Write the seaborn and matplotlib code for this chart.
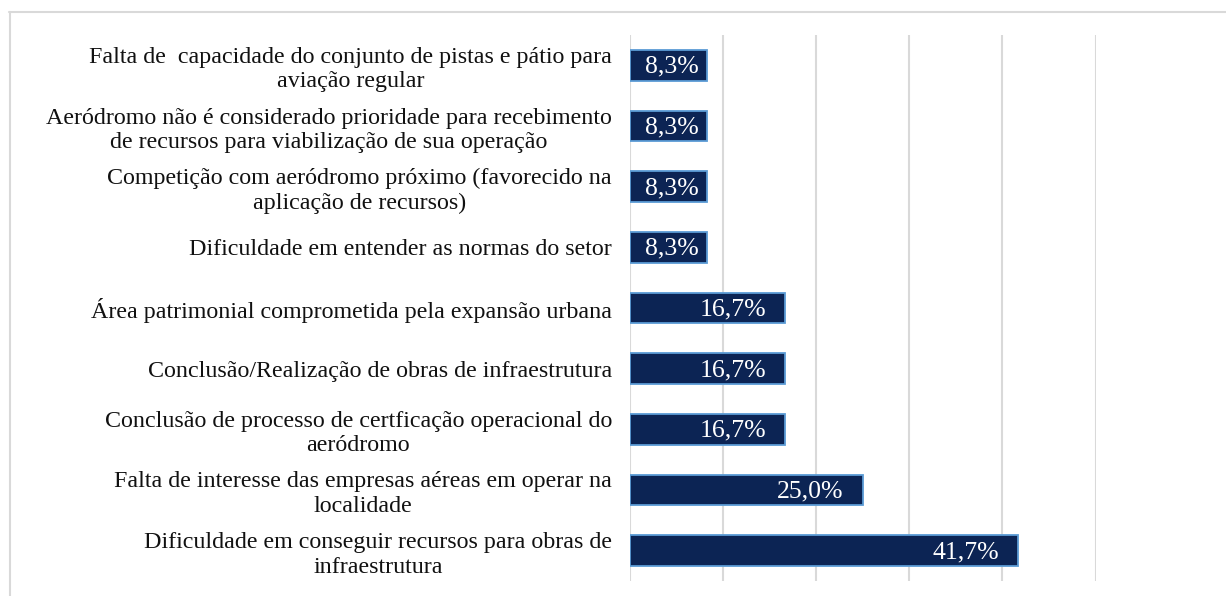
import pandas as pd
import matplotlib.pyplot as plt
import seaborn as sns
from matplotlib.lines import Line2D

# Data (top to bottom)
motivos = [
    "Falta de  capacidade do conjunto de pistas e pátio para\naviação regular",
    "Aeródromo não é considerado prioridade para recebimento\nde recursos para viabilização de sua operação",
    "Competição com aeródromo próximo (favorecido na\naplicação de recursos)",
    "Dificuldade em entender as normas do setor",
    "Área patrimonial comprometida pela expansão urbana",
    "Conclusão/Realização de obras de infraestrutura",
    "Conclusão de processo de certficação operacional do\naeródromo",
    "Falta de interesse das empresas aéreas em operar na\nlocalidade",
    "Dificuldade em conseguir recursos para obras de\ninfraestrutura",
]
percentuais = [8.3, 8.3, 8.3, 8.3, 16.7, 16.7, 16.7, 25.0, 41.7]
grid_ticks = [0, 10, 20, 30, 40, 50]

df = pd.DataFrame({"motivo": motivos, "pct": percentuais})

sns.set_style("white")
plt.rcParams['font.family'] = ['Liberation Serif', 'DejaVu Serif']

fig = plt.figure(figsize=(12.26, 5.96), dpi=100)
ax = fig.add_axes([630 / 1226, 1 - 581 / 596, 465.5 / 1226, 546 / 596])

sns.barplot(data=df, x="pct", y="motivo", orient="h", color="#002060",
            width=0.51, edgecolor="#5B9BD5", linewidth=1.3, ax=ax, zorder=3)

ax.set_xlim(0, 50)
ax.set_ylim(8.5, -0.5)
ax.set_xticks(grid_ticks)
ax.set_xticklabels([])
ax.grid(axis="x", color="#D9D9D9", linewidth=1.5, zorder=0)
ax.tick_params(axis="both", length=0)
ax.tick_params(axis="y", pad=13, labelsize=17.3)
for lbl in ax.get_yticklabels():
    lbl.set_multialignment("center")
    lbl.set_linespacing(1.22)
    lbl.set_color("#111111")
for s in ax.spines.values():
    s.set_visible(False)
ax.set_xlabel("")
ax.set_ylabel("")

# Value labels inside bar ends
for i, v in enumerate(percentuais):
    off = -14 if v > 12 else -6
    ax.annotate(f"{v:.1f}%".replace(".", ","), xy=(v, i), xytext=(off, -1),
                textcoords="offset points", ha="right", va="center",
                color="white", fontsize=18.5, zorder=4)

# Outer chart border (top and left visible)
fig.add_artist(Line2D([9 / 1226, 1.0], [1 - 12 / 596, 1 - 12 / 596],
                      color="#D9D9D9", linewidth=1.5, transform=fig.transFigure))
fig.add_artist(Line2D([10 / 1226, 10 / 1226], [1 - 12 / 596, 0.0],
                      color="#D9D9D9", linewidth=1.5, transform=fig.transFigure))

fig.savefig("out.png", dpi=100, facecolor="white")
